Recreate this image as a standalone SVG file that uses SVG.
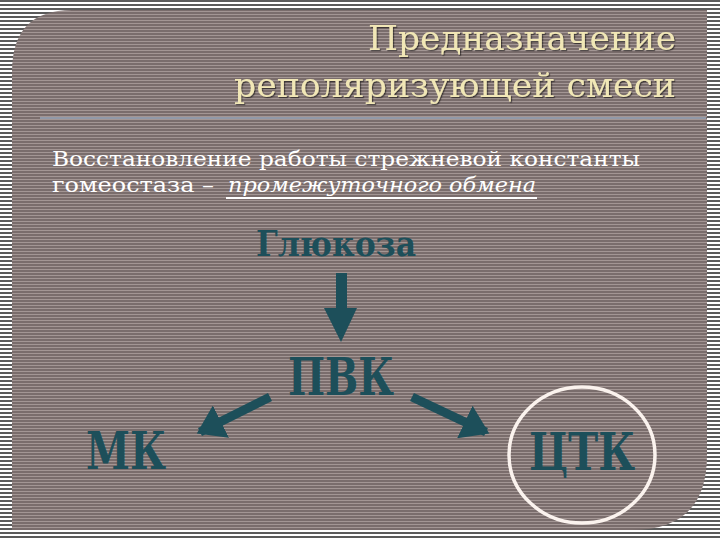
<svg xmlns="http://www.w3.org/2000/svg" width="720" height="540" viewBox="0 0 720 540">
<defs>
<pattern id="bgp" width="8" height="4" patternUnits="userSpaceOnUse">
<rect width="8" height="4" fill="#ffffff"/>
<rect y="0" width="8" height="2" fill="#5a5a5a"/>
</pattern>
<pattern id="pp" width="8" height="3" patternUnits="userSpaceOnUse">
<rect width="8" height="3" fill="#7a6d6c"/>
<rect y="2" width="8" height="1" fill="#a39694"/>
</pattern>
<filter id="sh" x="-5%" y="-20%" width="110%" height="140%">
<feDropShadow dx="1.2" dy="1.2" stdDeviation="0.7" flood-color="#000" flood-opacity="0.5"/>
</filter>
<marker id="ah" markerWidth="4" markerHeight="4" refX="2.6" refY="2" orient="auto" markerUnits="strokeWidth">
<path d="M0,0 L3,2 L0,4 Z" fill="#1d4f5a"/>
</marker>
</defs>
<style>
.title{font-family:"DejaVu Serif","Liberation Serif",serif;font-size:33px;fill:#f1e7b6;filter:url(#sh)}
.body{font-family:"DejaVu Serif","Liberation Serif",serif;font-size:21px;fill:#ffffff}
.node{font-family:"DejaVu Serif","Liberation Serif",serif;font-weight:bold;fill:#1d4f5a}
.arr{stroke:#1d4f5a;stroke-width:9;fill:none;marker-end:url(#ah)}
</style>
<rect width="720" height="540" fill="url(#bgp)"/>
<path id="panel" d="M12,72 Q12,10 72,10 L707,10 L707,455 Q707,530 632,530 L12,530 Z" fill="url(#pp)"/>
<line x1="40" y1="118" x2="706" y2="118" stroke="#9aa8bd" stroke-width="1.5"/>
<g id="title">
<text class="title" x="676" y="50" text-anchor="end" textLength="308" lengthAdjust="spacingAndGlyphs">Предназначение</text>
<text class="title" x="676" y="97" text-anchor="end" textLength="442" lengthAdjust="spacingAndGlyphs">реполяризующей смеси</text>
</g>
<g id="body">
<text class="body" x="52" y="166" textLength="588" lengthAdjust="spacingAndGlyphs">Восстановление работы стрежневой константы</text>
<text class="body" x="52" y="192" textLength="162" lengthAdjust="spacingAndGlyphs">гомеостаза –</text>
<text class="body" x="228" y="192" font-style="italic" textLength="308" lengthAdjust="spacingAndGlyphs">промежуточного  обмена</text>
<line x1="226" y1="198" x2="537" y2="198" stroke="#ffffff" stroke-width="1.8"/>
</g>
<g id="node-glucose"><text class="node" x="336" y="256" font-size="36" text-anchor="middle" textLength="160" lengthAdjust="spacingAndGlyphs">Глюкоза</text></g>
<g id="node-pvk"><text class="node" x="341" y="395" font-size="52" text-anchor="middle" textLength="106" lengthAdjust="spacingAndGlyphs">ПВК</text></g>
<g id="node-mk"><text class="node" x="126" y="469" font-size="52" text-anchor="middle" textLength="80" lengthAdjust="spacingAndGlyphs">МК</text></g>
<g id="node-ctk">
<ellipse cx="582" cy="455" rx="73" ry="68" fill="none" stroke="#fbf3ee" stroke-width="3.5"/>
<text class="node" x="582" y="470" font-size="52" text-anchor="middle" textLength="106" lengthAdjust="spacingAndGlyphs">ЦТК</text>
</g>
<g id="connectors">
<rect x="336" y="273" width="11" height="37" fill="#1d4f5a"/>
<path d="M324,308 L357,308 L341,342 Z" fill="#1d4f5a"/>
<line class="arr" x1="270" y1="397" x2="200" y2="432"/>
<line class="arr" x1="412" y1="397" x2="486" y2="432"/>
</g>
</svg>
